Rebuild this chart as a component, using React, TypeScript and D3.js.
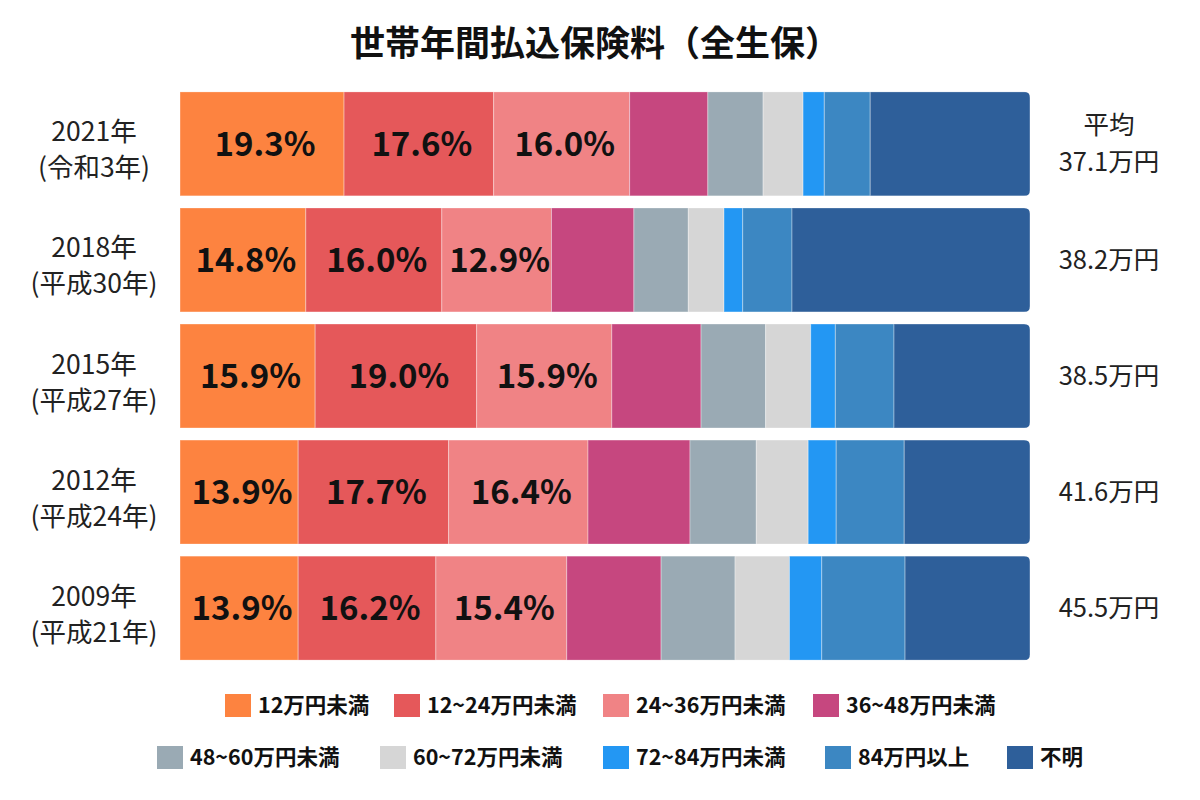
import React from "react";
import * as d3 from "d3";

const title = "世帯年間払込保険料（全生保）";
const years = ["2021年", "2018年", "2015年", "2012年", "2009年"];
const eras = ["(令和3年)", "(平成30年)", "(平成27年)", "(平成24年)", "(平成21年)"];
const averages = ["37.1万円", "38.2万円", "38.5万円", "41.6万円", "45.5万円"];
const categories = [
  "12万円未満",
  "12~24万円未満",
  "24~36万円未満",
  "36~48万円未満",
  "48~60万円未満",
  "60~72万円未満",
  "72~84万円未満",
  "84万円以上",
  "不明",
];
const colors = ["#fd8340", "#e5585a", "#f08385", "#c6477f", "#9aaab4", "#d6d6d6", "#2397f3", "#3c87c2", "#2e5f9a"];
const v2021 = [19.3, 17.6, 16.0, 9.2, 6.5, 4.7, 2.5, 5.4, 18.8];
const v2018 = [14.8, 16.0, 12.9, 9.7, 6.4, 4.2, 2.2, 5.8, 28.0];
const v2015 = [15.9, 19.0, 15.9, 10.5, 7.6, 5.3, 2.9, 6.9, 16.0];
const v2012 = [13.9, 17.7, 16.4, 12.0, 7.8, 6.1, 3.3, 8.0, 14.8];
const v2009 = [13.9, 16.2, 15.4, 11.1, 8.7, 6.4, 3.8, 9.8, 14.7];
const series = [v2021, v2018, v2015, v2012, v2009];
const labeledCount = 3;

const FONT = "'Noto Sans CJK JP', 'Noto Sans', sans-serif";

export default function App() {
  const W = 1200, H = 800;
  const x = d3.scaleLinear().domain([0, 100]).range([180, 1030]);
  const y = d3.scaleBand().domain(years).range([86, 666]).paddingInner(0.1034).paddingOuter(0.05);
  const bh = y.bandwidth();
  const r = 6;

  const legendRows = [
    { items: [0, 1, 2, 3], xs: [225, 394, 603, 813], y: 694 },
    { items: [4, 5, 6, 7, 8], xs: [157, 380, 603, 825, 1007], y: 746 },
  ];

  return (
    <svg width={W} height={H} style={{ position: "absolute", left: 0, top: 0, background: "#fff" }} fontFamily={FONT}>
      <text x={595} y={43} dy="0.36em" textAnchor="middle" fontSize={35} fontWeight="bold" fill="#111">{title}</text>
      {series.map((vals, i) => {
        const yr = years[i];
        const y0 = y(yr)!;
        let acc = 0;
        const segs = vals.map((v, j) => {
          const s = { x0: acc, x1: acc + v, v, j };
          acc += v;
          return s;
        });
        const clipId = `clip${i}`;
        const xL = x(0), xR = x(100);
        const path = `M${xL},${y0} H${xR - r} Q${xR},${y0} ${xR},${y0 + r} V${y0 + bh - r} Q${xR},${y0 + bh} ${xR - r},${y0 + bh} H${xL} Z`;
        const cy = y0 + bh / 2;
        return (
          <g key={yr}>
            <clipPath id={clipId}><path d={path} /></clipPath>
            <g clipPath={`url(#${clipId})`}>
              {segs.map((s) => (
                <rect key={s.j} x={x(s.x0)} y={y0} width={x(s.x1) - x(s.x0)} height={bh} fill={colors[s.j]}
                  stroke="rgba(255,255,255,0.35)" strokeWidth={1} />
              ))}
            </g>
            {segs.slice(0, labeledCount).map((s) => (
              <text key={"t" + s.j} x={(x(s.x0) + x(s.x1)) / 2 + 3} y={cy} dy="0.36em" textAnchor="middle"
                fontSize={33} fontWeight="bold" fill="#111">{s.v.toFixed(1)}%</text>
            ))}
            <text x={94} y={cy - 12} dy="0.36em" textAnchor="middle" fontSize={26.5} fill="#222">{yr}</text>
            <text x={94} y={cy + 24} dy="0.36em" textAnchor="middle" fontSize={26.5} fill="#222">{eras[i]}</text>
            {i === 0 ? (
              <>
                <text x={1109} y={cy - 19} dy="0.36em" textAnchor="middle" fontSize={25.5} fill="#222">平均</text>
                <text x={1109} y={cy + 18} dy="0.36em" textAnchor="middle" fontSize={25.5} fill="#222">{averages[i]}</text>
              </>
            ) : (
              <text x={1109} y={cy} dy="0.36em" textAnchor="middle" fontSize={25.5} fill="#222">{averages[i]}</text>
            )}
          </g>
        );
      })}
      {legendRows.map((row, ri) => (
        <g key={ri}>
          {row.items.map((ci, k) => (
            <g key={ci}>
              <rect x={row.xs[k]} y={row.y} width={26} height={23} fill={colors[ci]} />
              <text x={row.xs[k] + 33} y={row.y + 11.5} dy="0.36em" fontSize={21.5} fontWeight="bold" fill="#111">{categories[ci]}</text>
            </g>
          ))}
        </g>
      ))}
    </svg>
  );
}
